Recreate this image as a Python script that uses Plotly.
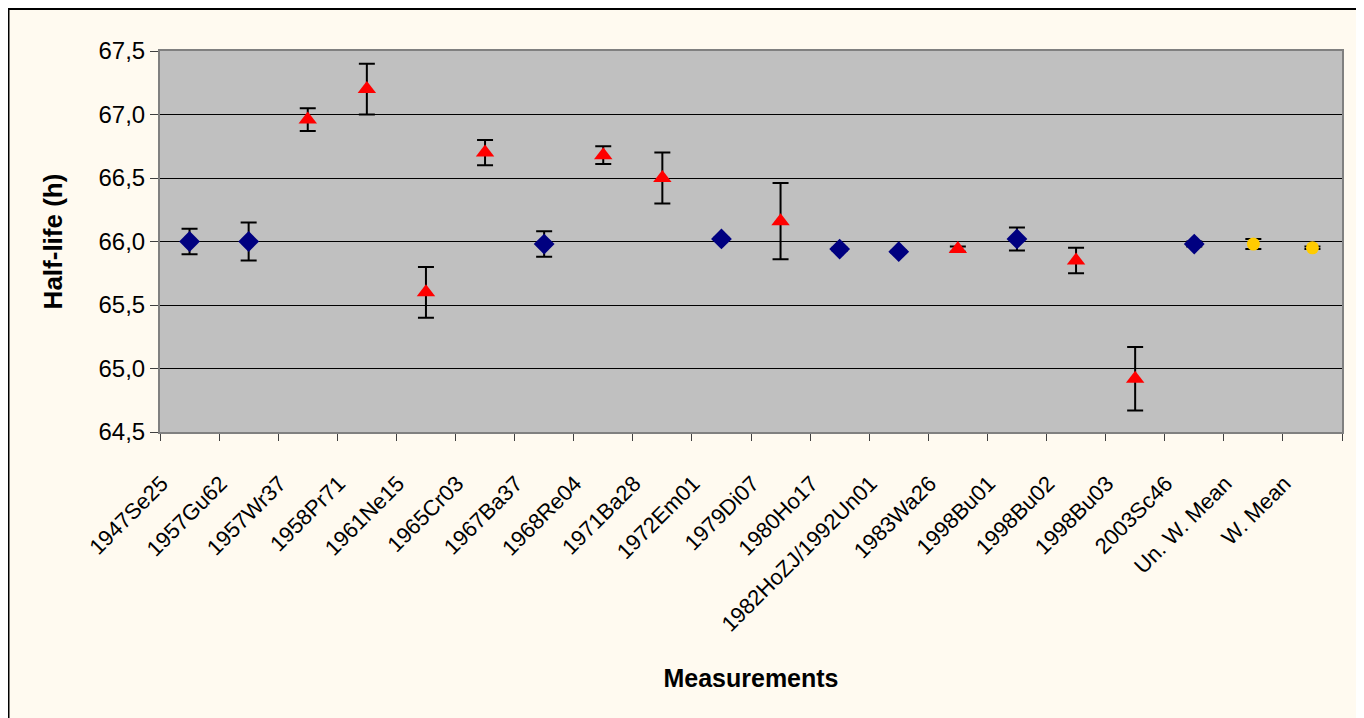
import plotly.graph_objects as go

categories = ["1947Se25", "1957Gu62", "1957Wr37", "1958Pr71", "1961Ne15", "1965Cr03",
              "1967Ba37", "1968Re04", "1971Ba28", "1972Em01", "1979Di07", "1980Ho17",
              "1982HoZJ/1992Un01", "1983Wa26", "1998Bu01", "1998Bu02", "1998Bu03",
              "2003Sc46", "Un. W. Mean", "W. Mean"]

# Accepted measurements (blue diamonds)
blue_x = ["1947Se25", "1957Gu62", "1967Ba37", "1972Em01", "1980Ho17",
          "1982HoZJ/1992Un01", "1998Bu01", "2003Sc46"]
blue_y = [66.00, 66.00, 65.98, 66.02, 65.94, 65.92, 66.02, 65.98]
blue_err = [0.10, 0.15, 0.10, 0.01, 0.01, 0.01, 0.09, 0.02]

# Outlier measurements (red triangles)
red_x = ["1957Wr37", "1958Pr71", "1961Ne15", "1965Cr03", "1968Re04", "1971Ba28",
         "1979Di07", "1983Wa26", "1998Bu02", "1998Bu03"]
red_y = [66.96, 67.20, 65.60, 66.70, 66.68, 66.50, 66.16, 65.94, 65.85, 64.92]
red_err = [0.09, 0.20, 0.20, 0.10, 0.07, 0.20, 0.30, 0.02, 0.10, 0.25]

# Means (yellow circles)
mean_x = ["Un. W. Mean", "W. Mean"]
mean_y = [65.98, 65.95]
mean_err = [0.04, 0.01]

y_ticks = [64.5, 65.0, 65.5, 66.0, 66.5, 67.0, 67.5]

err_style = dict(type="data", color="black", thickness=2, width=8, visible=True)

W, H = 1356, 710
ML, MR, MT, MB = 152, 22, 43, 286
PW = W - ML - MR
PH = H - MT - MB

fig = go.Figure()
fig.add_trace(go.Scatter(
    x=blue_x, y=blue_y, mode="markers",
    marker=dict(symbol="diamond", size=16, color="#000080"),
    error_y=dict(array=blue_err, **err_style), showlegend=False))
fig.add_trace(go.Scatter(
    x=red_x, y=red_y, mode="markers",
    marker=dict(symbol="triangle-up", size=16, color="#FF0000"),
    error_y=dict(array=red_err, **err_style), showlegend=False))
fig.add_trace(go.Scatter(
    x=mean_x, y=mean_y, mode="markers",
    marker=dict(symbol="circle", size=13, color="#FFCC00"),
    error_y=dict(array=mean_err, **err_style), showlegend=False))

fig.update_layout(
    width=W, height=H, autosize=False,
    margin=dict(l=ML, r=MR, t=MT, b=MB, autoexpand=False),
    paper_bgcolor="#FFFAF0",
    plot_bgcolor="#C0C0C0",
    separators=", ",
    font=dict(family="Liberation Sans, Arial, sans-serif", color="black"),
    xaxis=dict(
        type="category", categoryorder="array", categoryarray=categories,
        range=[-0.5, len(categories) - 0.5],
        tickangle=-45, tickfont=dict(size=22),
        ticklabelstandoff=28, ticklabelshift=-28,
        ticks="outside", ticklen=7, tickcolor="#404040", tickson="boundaries",
        showline=True, linecolor="#808080", linewidth=2, mirror=True,
        showgrid=False, automargin=False,
        title=dict(text="<b>Measurements</b>", font=dict(size=25), standoff=34),
    ),
    yaxis=dict(
        range=[64.5, 67.5], tickvals=y_ticks, tickformat=".1f",
        tickfont=dict(size=24),
        ticks="outside", ticklen=8, tickcolor="#404040",
        showline=True, linecolor="#808080", linewidth=2, mirror=True,
        showgrid=True, gridcolor="black", gridwidth=1, zeroline=False,
        automargin=False,
        title=dict(text="<b>Half-life (h)</b>", font=dict(size=26), standoff=28),
    ),
    shapes=[dict(type="rect", xref="paper", yref="paper",
                 x0=(0.5 - ML) / PW, x1=(W - 2 - ML) / PW,
                 y0=(MT + PH - (H + 20)) / PH, y1=(MT + PH - 1) / PH,
                 line=dict(color="black", width=2), fillcolor="rgba(0,0,0,0)",
                 layer="below")],
)

fig.write_html("out.html")
